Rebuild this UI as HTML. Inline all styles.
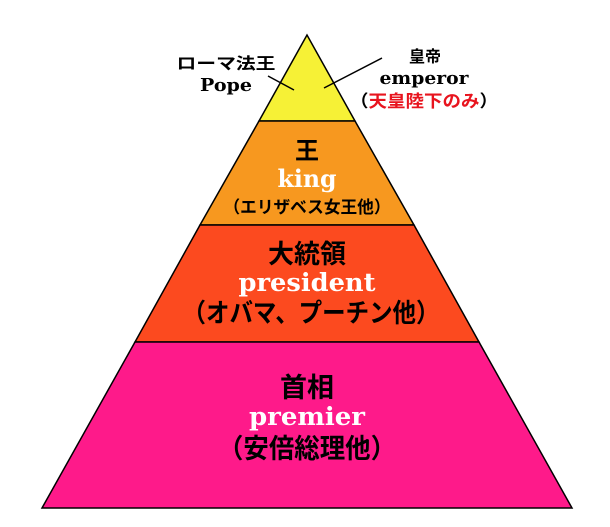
<!DOCTYPE html>
<html><head><meta charset="utf-8"><style>
html,body{margin:0;padding:0;background:#fff;}
svg{display:block;}
.j{font-family:"Liberation Sans","Noto Sans CJK JP",sans-serif;font-weight:bold;}
.e{font-family:"DejaVu Serif","Liberation Serif",serif;font-weight:bold;}
</style></head><body>
<svg width="610" height="527" viewBox="0 0 610 527" xmlns="http://www.w3.org/2000/svg">
<polygon points="307,35 259,121 355,121" fill="#f6f136" stroke="#000" stroke-width="1.5"/>
<polygon points="259,121 355,121 414,225 200,225" fill="#f7981f" stroke="#000" stroke-width="1.5"/>
<polygon points="200,225 414,225 479,342 135,342" fill="#fc4a1f" stroke="#000" stroke-width="1.5"/>
<polygon points="135,342 479,342 572,508 42,508" fill="#fe1a8a" stroke="#000" stroke-width="1.5"/>
<line x1="268" y1="76" x2="294" y2="90" stroke="#000" stroke-width="1.5"/>
<line x1="382" y1="58" x2="324" y2="88" stroke="#000" stroke-width="1.5"/>
<g text-anchor="middle">
<text x="226" y="69" class="j" font-size="16" textLength="99" lengthAdjust="spacingAndGlyphs">ローマ法王</text>
<text x="226" y="91" class="e" font-size="18" textLength="52" lengthAdjust="spacingAndGlyphs">Pope</text>
<text x="425" y="62" class="j" font-size="16">皇帝</text>
<text x="424" y="84" class="e" font-size="18" textLength="89" lengthAdjust="spacingAndGlyphs">emperor</text>
<text x="424" y="107" class="j" font-size="17" textLength="148" lengthAdjust="spacingAndGlyphs"><tspan fill="#000">（</tspan><tspan fill="#e8141e">天皇陸下のみ</tspan><tspan fill="#000">）</tspan></text>
<text x="307" y="159" class="j" font-size="24">王</text>
<text x="307" y="187" class="e" font-size="24" fill="#fff" textLength="59" lengthAdjust="spacingAndGlyphs">king</text>
<text x="307" y="213" class="j" font-size="17" textLength="167" lengthAdjust="spacingAndGlyphs">（エリザベス女王他）</text>
<text x="307" y="263" class="j" font-size="26">大統領</text>
<text x="307" y="291" class="e" font-size="25" fill="#fff" textLength="137" lengthAdjust="spacingAndGlyphs">president</text>
<text x="311" y="322" class="j" font-size="26" textLength="257" lengthAdjust="spacingAndGlyphs">（オバマ、プーチン他）</text>
<text x="307" y="397" class="j" font-size="27">首相</text>
<text x="307" y="425" class="e" font-size="25" fill="#fff" textLength="116" lengthAdjust="spacingAndGlyphs">premier</text>
<text x="307" y="458" class="j" font-size="27" textLength="178" lengthAdjust="spacingAndGlyphs">（安倍総理他）</text>
</g>
</svg>
</body></html>
